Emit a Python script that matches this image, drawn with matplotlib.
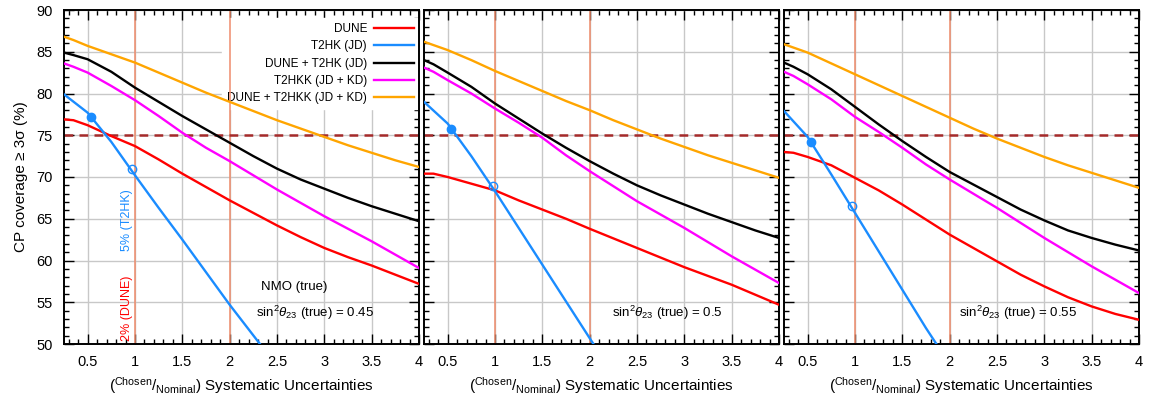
import numpy as np
import matplotlib
matplotlib.use("Agg")
import matplotlib.pyplot as plt

plt.rcParams['font.family'] = ['Liberation Sans', 'DejaVu Sans']
plt.rcParams['mathtext.fontset'] = 'custom'
plt.rcParams['mathtext.rm'] = 'Liberation Sans'
plt.rcParams['mathtext.it'] = 'Liberation Sans:italic'

# common x grid (chosen / nominal systematics)
x = [0.25, 0.35, 0.5, 0.75, 1.0, 1.25, 1.5, 1.75, 2.0, 2.25, 2.5, 2.75, 3.0, 3.25, 3.5, 3.75, 4.0]

# sin^2 theta23 = 0.45
dune_45 = [76.9, 76.8, 76.2, 74.9, 73.7, 72.1, 70.4, 68.8, 67.2, 65.7, 64.2, 62.8, 61.5, 60.4, 59.4, 58.3, 57.2]
t2hkk_45 = [83.6, 83.2, 82.5, 80.9, 79.2, 77.3, 75.3, 73.5, 71.9, 70.2, 68.5, 66.9, 65.3, 63.8, 62.3, 60.7, 59.1]
dune_t2hk_45 = [84.9, 84.6, 84.1, 82.6, 80.7, 79.0, 77.3, 75.7, 74.1, 72.5, 71.0, 69.7, 68.6, 67.5, 66.5, 65.6, 64.7]
dune_t2hkk_45 = [86.8, 86.4, 85.7, 84.7, 83.7, 82.5, 81.3, 80.1, 79.0, 77.9, 76.8, 75.8, 74.8, 73.8, 72.9, 72.0, 71.2]
x_t2hk_45 = [0.25, 0.5, 0.75, 1.0, 1.25, 1.5, 1.75, 2.0, 2.32]
t2hk_45 = [79.9, 77.7, 74.2, 70.2, 66.3, 62.5, 58.6, 54.7, 50.0]

# sin^2 theta23 = 0.5
dune_50 = [70.4, 70.4, 70.0, 69.2, 68.4, 67.2, 66.1, 65.0, 63.8, 62.65, 61.5, 60.35, 59.2, 58.15, 57.1, 55.9, 54.7]
t2hkk_50 = [83.1, 82.6, 81.6, 80.0, 78.2, 76.5, 74.7, 72.6, 70.7, 68.9, 67.1, 65.5, 63.9, 62.2, 60.5, 58.9, 57.3]
dune_t2hk_50 = [84.0, 83.5, 82.5, 80.8, 78.8, 77.0, 75.2, 73.5, 71.9, 70.4, 69.0, 67.8, 66.7, 65.6, 64.6, 63.6, 62.7]
dune_t2hkk_50 = [86.2, 85.8, 85.2, 84.0, 82.7, 81.5, 80.3, 79.1, 78.0, 76.8, 75.7, 74.6, 73.6, 72.6, 71.7, 70.8, 69.9]
x_t2hk_50 = [0.25, 0.5, 0.75, 1.0, 1.25, 1.5, 1.75, 2.0, 2.04]
t2hk_50 = [79.0, 76.4, 72.5, 68.3, 63.9, 59.5, 55.1, 50.7, 50.0]

# sin^2 theta23 = 0.55
dune_55 = [73.0, 72.9, 72.4, 71.4, 69.9, 68.4, 66.7, 64.9, 63.1, 61.5, 59.9, 58.3, 56.9, 55.6, 54.5, 53.6, 52.9]
t2hkk_55 = [82.6, 82.1, 81.1, 79.3, 77.2, 75.4, 73.5, 71.5, 69.7, 68.0, 66.3, 64.5, 62.7, 61.0, 59.3, 57.7, 56.1]
dune_t2hk_55 = [83.7, 83.2, 82.3, 80.5, 78.4, 76.3, 74.3, 72.4, 70.6, 69.1, 67.6, 66.1, 64.8, 63.6, 62.7, 61.9, 61.2]
dune_t2hkk_55 = [85.9, 85.5, 84.9, 83.6, 82.3, 81.0, 79.7, 78.4, 77.1, 75.8, 74.6, 73.5, 72.4, 71.4, 70.5, 69.6, 68.7]
x_t2hk_55 = [0.25, 0.5, 0.75, 1.0, 1.25, 1.5, 1.75, 1.86]
t2hk_55 = [77.9, 74.8, 70.3, 65.7, 61.1, 56.5, 51.9, 50.0]

# marked points on T2HK curve: (filled), (open)
filled_pts = [(0.54, 77.2), (0.54, 75.8), (0.537, 74.2)]
open_pts = [(0.965, 70.9), (0.975, 68.9), (0.97, 66.5)]

th_labels = ['0.45', '0.5', '0.55']
xticks = [0.5, 1, 1.5, 2, 2.5, 3, 3.5, 4]
xtick_labels = ['0.5', '1', '1.5', '2', '2.5', '3', '3.5', '4']

panels = [
    (dune_45, x_t2hk_45, t2hk_45, dune_t2hk_45, t2hkk_45, dune_t2hkk_45),
    (dune_50, x_t2hk_50, t2hk_50, dune_t2hk_50, t2hkk_50, dune_t2hkk_50),
    (dune_55, x_t2hk_55, t2hk_55, dune_t2hk_55, t2hkk_55, dune_t2hkk_55),
]

c_red = '#ff0000'
c_blue = '#1a8cff'
c_black = '#000000'
c_mag = '#ff00ff'
c_orange = '#ffa500'
c_vline = '#ef8c6c'

fig = plt.figure(figsize=(11.56, 4.08), dpi=100)
lefts = [64, 424, 784]
for i, (d, xb, b, dt, tk, dtk) in enumerate(panels):
    ax = fig.add_axes([lefts[i] / 1156, 1 - 344 / 408, 355 / 1156, 334 / 408])
    ax.set_xlim(0.25, 4)
    ax.set_ylim(50, 90)
    ax.set_axisbelow(True)
    ax.grid(True, color='#c8c8c8', lw=1.0)

    ax.axvline(1, color=c_vline, lw=1.1, zorder=1.6)
    ax.axvline(2, color=c_vline, lw=1.1, zorder=1.6)
    ax.axhline(75, color='#a52a2a', lw=1.8, ls=(0, (3.5, 2.5)), zorder=1.7)

    lw = 1.7
    ax.plot(x, d, color=c_red, lw=lw, label='DUNE', zorder=3)
    ax.plot(xb, b, color=c_blue, lw=lw, label='T2HK (JD)', zorder=3)
    ax.plot(x, dt, color=c_black, lw=lw, label='DUNE + T2HK (JD)', zorder=3)
    ax.plot(x, tk, color=c_mag, lw=lw, label='T2HKK (JD + KD)', zorder=3)
    ax.plot(x, dtk, color=c_orange, lw=lw, label='DUNE + T2HKK (JD + KD)', zorder=3)

    ax.plot(*filled_pts[i], 'o', color=c_blue, ms=6, zorder=4)
    ax.plot(*open_pts[i], 'o', mfc='none', mec=c_blue, mew=1.0, ms=6, zorder=4)

    ax.set_xticks(xticks)
    ax.set_xticklabels(xtick_labels)
    ax.set_xticks(np.arange(0.3, 4.0, 0.1), minor=True)
    ax.set_yticks(np.arange(50, 91, 5))
    ax.set_yticks(np.arange(50, 91, 1), minor=True)
    ax.tick_params(which='both', direction='in', top=True, right=True,
                   labelsize=10.5, width=1.0)
    ax.tick_params(which='major', length=7, pad=8)
    ax.tick_params(which='minor', length=3.5)
    for s in ax.spines.values():
        s.set_linewidth(1.4)
    if i > 0:
        ax.set_yticklabels([])
    else:
        ax.set_ylabel('CP coverage \u2265 3\u03c3 (%)', fontsize=11, labelpad=6)
    ax.set_xlabel(r'($^{\mathrm{Chosen}}/_{\mathrm{Nominal}}$) Systematic Uncertainties',
                  fontsize=11, labelpad=4)

    xs = [2.28, 2.24, 2.1][i]
    ax.text(xs, 53.7, r'sin$^2\theta_{23}$ (true) = ' + th_labels[i],
            fontsize=9.5, ha='left', va='center', zorder=5)

    if i == 0:
        ax.text(2.68, 56.8, 'NMO (true)', fontsize=9.5, ha='center', va='center')
        ax.text(0.92, 64.8, '5% (T2HK)', color=c_blue, rotation=90,
                fontsize=9, ha='center', va='center')
        ax.text(0.92, 54.3, '2% (DUNE)', color=c_red, rotation=90,
                fontsize=9, ha='center', va='center')
        leg = ax.legend(loc='upper right', bbox_to_anchor=(1.0, 0.975),
                        borderaxespad=0, markerfirst=False, fontsize=8.5,
                        frameon=True, fancybox=False, framealpha=1,
                        facecolor='white', edgecolor='white',
                        handlelength=3.4, labelspacing=0.45,
                        borderpad=0.4, handletextpad=0.6)
        leg.set_zorder(1.5)
        for t in leg.get_texts():
            t.set_ha('right')

fig.savefig('out.png', dpi=100)
